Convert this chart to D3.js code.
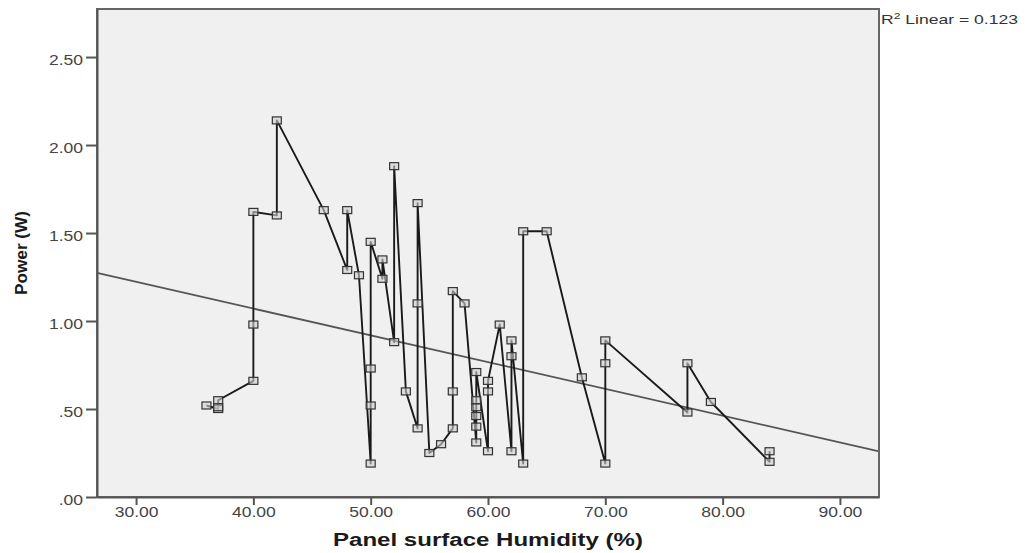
<!DOCTYPE html>
<html>
<head>
<meta charset="utf-8">
<script src="https://cdn.jsdelivr.net/npm/d3@7"></script>
<style>
body { margin: 0; background: #fff; }
svg { display: block; font-family: "Liberation Sans", Arial, sans-serif; }
</style>
</head>
<body>
<svg id="chart" width="1027" height="553"></svg>
<script>
// readings, already in the order the interpolation line follows (x, then y)
const humidity = [36, 37, 37, 37, 40, 40, 40, 42, 42, 46, 48, 48, 49,
    50, 50, 50, 50, 51, 51, 52, 52, 53, 54, 54, 54, 55, 56, 57, 57, 57, 58,
    59, 59, 59, 59, 59, 59, 60, 60, 60, 61, 62, 62, 62, 63, 63, 65, 68,
    70, 70, 70, 77, 77, 79, 84, 84];
const power = [0.52, 0.50, 0.51, 0.55, 0.66, 0.98, 1.62, 1.60, 2.14, 1.63, 1.29, 1.63, 1.26,
    0.19, 0.52, 0.73, 1.45, 1.24, 1.35, 0.88, 1.88, 0.60, 0.39, 1.10, 1.67, 0.25, 0.30, 0.39, 0.60, 1.17, 1.10,
    0.31, 0.40, 0.46, 0.51, 0.55, 0.71, 0.26, 0.60, 0.66, 0.98, 0.26, 0.80, 0.89, 0.19, 1.51, 1.51, 0.68,
    0.19, 0.76, 0.89, 0.48, 0.76, 0.54, 0.20, 0.26];

const xTicks = [30, 40, 50, 60, 70, 80, 90];
const yTicks = [0, 0.5, 1, 1.5, 2, 2.5];
const xTitle = "Panel surface Humidity (%)";
const yTitle = "Power (W)";
const rSquared = 0.123;

const margin = { top: 9, right: 148, bottom: 56, left: 97 };
const width = 1027, height = 553;
const innerW = width - margin.left - margin.right;
const innerH = height - margin.top - margin.bottom;

const svg = d3.select("#chart");
const g = svg.append("g").attr("transform", `translate(${margin.left},${margin.top})`);

const x = d3.scaleLinear().domain([26.67, 93.33]).range([0, innerW]);
const y = d3.scaleLinear().domain([0, 2.773]).range([innerH, 0]);

const points = humidity.map((h, i) => ({ h, p: power[i] }));

// stretch text a bit, the original is rendered wide
function widen(sel, k) {
    sel.each(function () {
        const w = this.getComputedTextLength();
        d3.select(this).attr("textLength", w * k).attr("lengthAdjust", "spacingAndGlyphs");
    });
}

g.append("rect")
    .attr("width", innerW)
    .attr("height", innerH)
    .attr("fill", "#f0f0f0");

// least squares fit
const mx = d3.mean(humidity), my = d3.mean(power);
const slope = d3.sum(points, d => (d.h - mx) * (d.p - my)) / d3.sum(points, d => (d.h - mx) ** 2);
const intercept = my - slope * mx;
const fitX = x.domain();

g.append("line")
    .attr("x1", x(fitX[0])).attr("y1", y(intercept + slope * fitX[0]))
    .attr("x2", x(fitX[1])).attr("y2", y(intercept + slope * fitX[1]))
    .attr("stroke", "#555")
    .attr("stroke-width", 1.8);

const line = d3.line().x(d => x(d.h)).y(d => y(d.p));

g.append("path")
    .datum(points)
    .attr("fill", "none")
    .attr("stroke", "#1a1a1a")
    .attr("stroke-width", 1.9)
    .attr("stroke-linejoin", "round")
    .attr("d", line);

g.append("g")
    .selectAll("rect")
    .data(points)
    .join("rect")
    .attr("x", d => x(d.h) - 4.5)
    .attr("y", d => y(d.p) - 3.5)
    .attr("width", 9)
    .attr("height", 7)
    .attr("fill", "#cfcfcf")
    .attr("fill-opacity", 0.6)
    .attr("stroke", "#333")
    .attr("stroke-width", 1.2);

// frame
g.append("rect")
    .attr("width", innerW)
    .attr("height", innerH)
    .attr("fill", "none")
    .attr("stroke", "#666")
    .attr("stroke-width", 2);

const fmt = v => d3.format(".2f")(v).replace(/^0\./, ".");

const xAxis = g.append("g")
    .attr("transform", `translate(0,${innerH})`)
    .call(d3.axisBottom(x).tickValues(xTicks).tickFormat(fmt).tickSize(8).tickSizeOuter(0).tickPadding(2));

const yAxis = g.append("g")
    .call(d3.axisLeft(y).tickValues(yTicks).tickFormat(fmt).tickSize(11).tickSizeOuter(0).tickPadding(3));

[xAxis, yAxis].forEach(a => {
    a.select(".domain").attr("stroke", "#555").attr("stroke-width", 2);
    a.selectAll(".tick line").attr("stroke", "#555").attr("stroke-width", 2);
    a.selectAll(".tick text")
        .attr("font-family", "Liberation Sans, Arial, sans-serif")
        .attr("font-size", 14)
        .attr("fill", "#444");
});
yAxis.selectAll(".tick text").attr("dy", "0.5em");
widen(xAxis.selectAll(".tick text"), 1.25);
widen(yAxis.selectAll(".tick text"), 1.25);

svg.append("text")
    .attr("x", margin.left + innerW / 2)
    .attr("y", 546)
    .attr("text-anchor", "middle")
    .attr("font-size", 18)
    .attr("font-weight", "bold")
    .attr("fill", "#1a1a1a")
    .attr("textLength", 310)
    .attr("lengthAdjust", "spacingAndGlyphs")
    .text(xTitle);

svg.append("text")
    .attr("transform", `translate(27,${margin.top + innerH / 2}) rotate(-90)`)
    .attr("text-anchor", "middle")
    .attr("font-size", 17)
    .attr("font-weight", "bold")
    .attr("fill", "#1a1a1a")
    .attr("textLength", 84)
    .attr("lengthAdjust", "spacingAndGlyphs")
    .text(yTitle);

const r2 = svg.append("text")
    .attr("x", margin.left + innerW + 2)
    .attr("y", 24)
    .attr("font-size", 13)
    .attr("fill", "#333");
r2.append("tspan").text("R");
r2.append("tspan").attr("font-size", 9).attr("dy", -5).text("2");
r2.append("tspan").attr("dy", 5).text(` Linear = ${rSquared}`);
widen(r2, 1.35);
</script>
</body>
</html>
